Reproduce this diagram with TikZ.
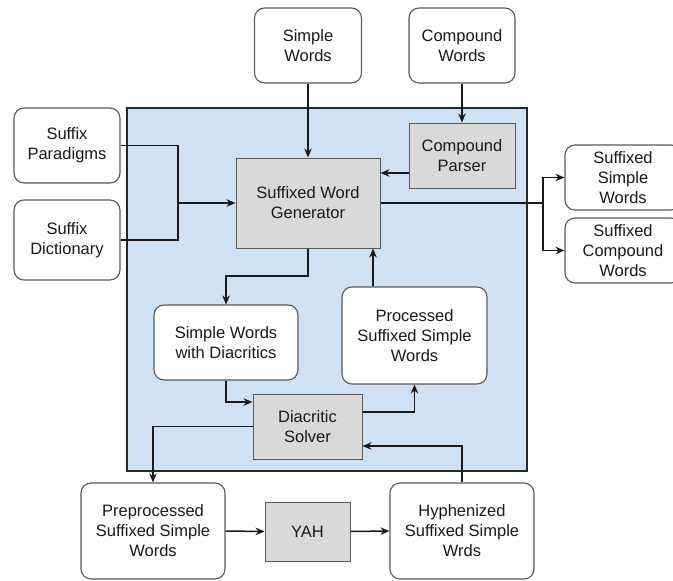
\documentclass[tikz,border=0pt]{standalone}
\usepackage{fontspec}
\setmainfont{Liberation Sans}
\usetikzlibrary{arrows.meta}
\definecolor{bluebg}{HTML}{CFE2F3}
\definecolor{grayfill}{HTML}{D9D9D9}
\definecolor{rborder}{HTML}{595959}
\tikzset{
  txt/.style={align=center, font=\fontsize{16.5}{20}\selectfont, inner sep=0pt, text=black!90},
  rbox/.style={txt, draw=rborder, line width=1.1pt, fill=white, rounded corners=10pt},
  gbox/.style={txt, draw=black!65, line width=1pt, fill=grayfill},
  conn/.style={line width=1.5pt, draw=black!90},
  arr/.style={conn, -{Stealth[length=9pt,width=7.5pt,inset=3pt]}},
}
\begin{document}
\begin{tikzpicture}[x=1pt,y=-1pt]
\useasboundingbox (0,0) rectangle (673,581);
\fill[white] (0,0) rectangle (673,581);
% blue frame
\draw[fill=bluebg, draw=black!85, line width=1.8pt] (127,108) rectangle (527,471);

\node[rbox, minimum width=107pt, minimum height=75pt] (sw) at (308,45.5) {Simple\\Words};
\node[rbox, minimum width=106pt, minimum height=75pt] (cw) at (462,45.5) {Compound\\Words};
\node[rbox, minimum width=106pt, minimum height=75pt] (sp) at (67,145.5) {Suffix\\Paradigms};
\node[rbox, minimum width=106pt, minimum height=80pt] (sd) at (67,240) {Suffix\\Dictionary};
\node[gbox, minimum width=106pt, minimum height=65pt] (cp) at (462,155.5) {Compound\\Parser};
\node[gbox, minimum width=144pt, minimum height=90pt] (swg) at (308,203) {Suffixed Word\\Generator};
\node[rbox, minimum width=116pt, minimum height=65pt] (ssw) at (623,177.5) {Suffixed\\Simple\\Words};
\node[rbox, minimum width=116pt, minimum height=65pt] (scw) at (623,250.5) {Suffixed\\Compound\\Words};
\node[rbox, minimum width=144pt, minimum height=75pt] (swd) at (226,342.5) {Simple Words\\with Diacritics};
\node[rbox, minimum width=145pt, minimum height=97pt] (pssw) at (414.5,335.5) {Processed\\Suffixed Simple\\Words};
\node[gbox, minimum width=109pt, minimum height=65pt] (ds) at (307.5,426.5) {Diacritic\\Solver};
\node[rbox, minimum width=144pt, minimum height=96pt] (pre) at (153,531) {Preprocessed\\Suffixed Simple\\Words};
\node[gbox, minimum width=85pt, minimum height=59pt] (yah) at (307.5,531.5) {YAH};
\node[rbox, minimum width=144pt, minimum height=96pt] (hyp) at (462,531) {Hyphenized\\Suffixed Simple\\Wrds};

\coordinate (join) at (178,203);
\coordinate (split) at (543,203);

% connectors
\draw[arr] (sw.south) -- (sw.south |- swg.north);
\draw[arr] (cw.south) -- (cp.north);
\draw[arr] (cp.west |- 0,173) -- (swg.east |- 0,173);
\draw[conn] (sp.east) -| (join);
\draw[conn] (sd.east) -| (join);
\draw[arr] (join) -- (swg.west);
\draw[conn] (swg.east) -- (split);
\draw[arr] (split) |- (ssw.west);
\draw[arr] (split) |- (scw.west);
\draw[arr] (swg.south) -- (308,276) -| (swd.north);
\draw[arr] (swd.south) |- (ds.west |- 0,402);
\draw[arr] (ds.east |- 0,412) -| (pssw.south);
\draw[arr] (ds.west) -| (pre.north);
\draw[arr] (hyp.north) |- (ds.east |- 0,446);
\draw[arr] ([xshift=-41.5pt]pssw.north) -- ([xshift=-41.5pt]pssw.north |- swg.south);
\draw[arr] (pre.east) -- (yah.west);
\draw[arr] (yah.east) -- (hyp.west);
\end{tikzpicture}
\end{document}
